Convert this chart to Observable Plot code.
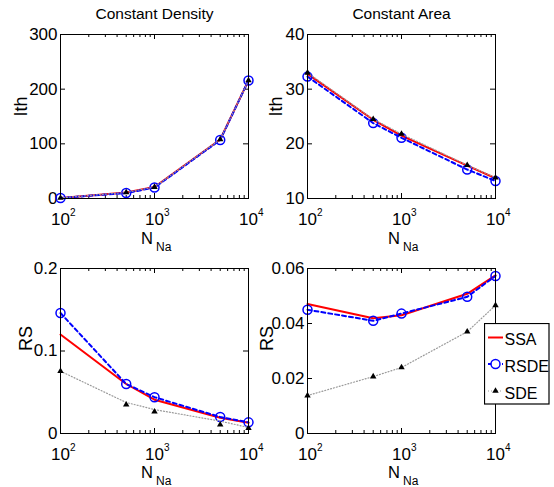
<!DOCTYPE html>
<html><head><meta charset="utf-8">
<script src="https://cdn.jsdelivr.net/npm/d3@7"></script>
<script src="https://cdn.jsdelivr.net/npm/@observablehq/plot@0.6"></script>
<style>
html,body{margin:0;padding:0;background:#fff;}
#wrap{position:relative;width:554px;height:487px;overflow:hidden;font-family:"Liberation Sans",Arial,Helvetica,sans-serif;}
#wrap > svg, #wrap > div{position:absolute;}
</style></head><body><div id="wrap"></div>
<script>
// ---- data ----
const nNa = [100, 500, 1000, 5000, 10000];
const ithDensSSA  = [1, 11, 21, 108, 216];
const ithDensRSDE = [1, 10, 20, 107, 216];
const ithDensSDE  = [1, 11, 21, 108, 216];
const ithAreaSSA  = [32.8, 24.4, 21.5, 16.0, 13.7];
const ithAreaRSDE = [32.3, 23.8, 21.1, 15.3, 13.2];
const ithAreaSDE  = [33.0, 24.5, 21.8, 16.1, 13.8];
const rsDensSSA   = [0.120, 0.060, 0.041, 0.019, 0.013];
const rsDensRSDE  = [0.146, 0.060, 0.044, 0.020, 0.0135];
const rsDensSDE   = [0.0755, 0.035, 0.0265, 0.0107, 0.0065];
const rsDensSDEline = [0.0755, 0.0376, 0.029, 0.0150, 0.0073];
const rsAreaSSA   = [0.0471, 0.0419, 0.0430, 0.0508, 0.0575];
const rsAreaRSDE  = [0.0450, 0.0410, 0.0436, 0.0497, 0.0573];
const rsAreaSDE   = [0.0138, 0.0207, 0.0240, 0.0370, 0.0466];

const xTicks = [100, 1000, 10000];
const xMinorTicks = [200,300,400,500,600,700,800,900,2000,3000,4000,5000,6000,7000,8000,9000];
const ithDensTicks = [0, 100, 200, 300];
const ithAreaTicks = [10, 20, 30, 40];
const rsDensTicks = [0, 0.1, 0.2];
const rsAreaTicks = [0, 0.02, 0.04, 0.06];
const seriesNames = ["SSA", "RSDE", "SDE"];
const titles = ["Constant Density", "Constant Area"];
const yLabels = ["Ith", "RS"];
const xLabelMain = "N", xLabelSub = "Na";

const RED = "#ff0000", BLUE = "#0000ff", GRAY = "#9a9a9a";
const FONT = '"Liberation Sans", Arial, Helvetica, sans-serif';

const toRows = (vals) => nNa.map((n, i) => ({n, v: vals[i]}));

function panel(o) {
  const {left, top, width, height, ml, mr, mt, mb, yDomain, yTicks, ssa, rsde, sde, sdeLine, title, ylabel, ylabelDx, xlabelDy} = o;
  const fw = width - ml - mr, fh = height - mt - mb;
  const marks = [
    // inward ticks (major & minor) on all four sides
    Plot.tickX(xTicks, {x: d => d, insetTop: fh - 5, stroke: "black"}),
    Plot.tickX(xTicks, {x: d => d, insetBottom: fh - 5, stroke: "black"}),
    Plot.tickX(xMinorTicks, {x: d => d, insetTop: fh - 3, stroke: "black"}),
    Plot.tickX(xMinorTicks, {x: d => d, insetBottom: fh - 3, stroke: "black"}),
    Plot.tickY(yTicks, {y: d => d, insetRight: fw - 5, stroke: "black"}),
    Plot.tickY(yTicks, {y: d => d, insetLeft: fw - 5, stroke: "black"}),
    Plot.axisY(yTicks, {tickSize: 0, tickPadding: 3, tickFormat: d => String(d), label: null, fontSize: 17}),
    Plot.axisX(xTicks, {tickSize: 0, tickPadding: 14, tickFormat: () => "10", label: null, fontSize: 17}),
    Plot.text(xTicks, {x: d => d, text: d => String(Math.round(Math.log10(d))), frameAnchor: "bottom", lineAnchor: "bottom", textAnchor: "start", dx: 9.5, dy: 17, fontSize: 10}),
    Plot.text([xLabelMain], {text: d => d, frameAnchor: "bottom", lineAnchor: "bottom", textAnchor: "end", dx: -1.5, dy: xlabelDy, fontSize: 16.5}),
    Plot.text([xLabelSub], {text: d => d, frameAnchor: "bottom", lineAnchor: "bottom", textAnchor: "start", dx: 1.5, dy: xlabelDy + 7, fontSize: 12}),
    Plot.text([ylabel], {text: d => d, frameAnchor: "left", rotate: -90, dx: ylabelDx, fontSize: 18}),
    // series
    Plot.line(toRows(ssa), {x: "n", y: "v", stroke: RED, strokeWidth: 2}),
    Plot.line(toRows(rsde), {x: "n", y: "v", stroke: BLUE, strokeWidth: 2, strokeDasharray: "4,3"}),
    Plot.dot(toRows(rsde), {x: "n", y: "v", r: 4.5, stroke: BLUE, strokeWidth: 1.5, fill: "none"}),
    Plot.line(toRows(sdeLine || sde), {x: "n", y: "v", stroke: GRAY, strokeWidth: 1.2, strokeDasharray: "1,2"}),
    Plot.dot(toRows(sde), {x: "n", y: "v", symbol: "triangle", r: 2.4, fill: "black", stroke: "none"}),
    Plot.frame({stroke: "black", strokeWidth: 1})
  ];
  if (title) marks.push(Plot.text([title], {text: d => d, frameAnchor: "top", lineAnchor: "bottom", dy: -16, fontSize: 15.5}));
  const svg = Plot.plot({
    width, height, marginLeft: ml, marginRight: mr, marginTop: mt, marginBottom: mb,
    x: {type: "log", domain: [100, 10000]},
    y: {domain: yDomain},
    style: {background: "none", overflow: "visible", fontFamily: FONT, fontSize: "17px", color: "black"},
    marks
  });
  svg.style.left = left + "px";
  svg.style.top = top + "px";
  return svg;
}

const wrap = document.getElementById("wrap");
wrap.appendChild(panel({left: 0, top: 0, width: 250, height: 243, ml: 60, mr: 2, mt: 34, mb: 45,
  yDomain: [0, 300], yTicks: ithDensTicks, ssa: ithDensSSA, rsde: ithDensRSDE, sde: ithDensSDE,
  title: titles[0], ylabel: yLabels[0], ylabelDx: -39, xlabelDy: 45}));
wrap.appendChild(panel({left: 250, top: 0, width: 304, height: 243, ml: 57, mr: 59, mt: 34, mb: 45,
  yDomain: [10, 40], yTicks: ithAreaTicks, ssa: ithAreaSSA, rsde: ithAreaRSDE, sde: ithAreaSDE,
  title: titles[1], ylabel: yLabels[0], ylabelDx: -31, xlabelDy: 45}));
wrap.appendChild(panel({left: 0, top: 243, width: 250, height: 244, ml: 60, mr: 2, mt: 25, mb: 54,
  yDomain: [0, 0.2], yTicks: rsDensTicks, ssa: rsDensSSA, rsde: rsDensRSDE, sde: rsDensSDE, sdeLine: rsDensSDEline,
  ylabel: yLabels[1], ylabelDx: -34, xlabelDy: 44}));
wrap.appendChild(panel({left: 250, top: 243, width: 304, height: 244, ml: 57, mr: 59, mt: 25, mb: 54,
  yDomain: [0, 0.06], yTicks: rsAreaTicks, ssa: rsAreaSSA, rsde: rsAreaRSDE, sde: rsAreaSDE,
  ylabel: yLabels[1], ylabelDx: -40, xlabelDy: 44}));

// ---- legend (inside bottom-right panel) ----
const leg = d3.select(wrap).append("div").style("left", "484px").style("top", "323px");
const lsvg = leg.append("svg").attr("width", 66).attr("height", 82).style("display", "block");
lsvg.append("rect").attr("x", 0.5).attr("y", 0.5).attr("width", 64.5).attr("height", 80.5)
  .attr("fill", "white").attr("stroke", "black").attr("stroke-width", 1.2);
const rowsY = [14.5, 41, 68];
const g = lsvg.selectAll("g.item").data(seriesNames).join("g").attr("transform", (d, i) => `translate(0,${rowsY[i]})`);
g.append("line").attr("x1", 4).attr("x2", 19).attr("y1", 0).attr("y2", 0)
  .attr("stroke", d => d === "SSA" ? RED : d === "RSDE" ? BLUE : GRAY)
  .attr("stroke-width", d => d === "SDE" ? 1.2 : 2)
  .attr("stroke-dasharray", d => d === "RSDE" ? "4,3" : d === "SDE" ? "1,2" : null);
g.filter(d => d === "RSDE").append("circle").attr("cx", 11.5).attr("cy", 0).attr("r", 4.5)
  .attr("fill", "white").attr("stroke", BLUE).attr("stroke-width", 1.5);
g.filter(d => d === "SDE").append("path").attr("transform", "translate(11.5,0)")
  .attr("d", d3.symbol(d3.symbolTriangle, Math.PI * 2.4 * 2.4)()).attr("fill", "black");
g.append("text").attr("x", 20.5).attr("y", 7.5).attr("font-size", 16).attr("font-family", FONT).text(d => d);
</script></body></html>
